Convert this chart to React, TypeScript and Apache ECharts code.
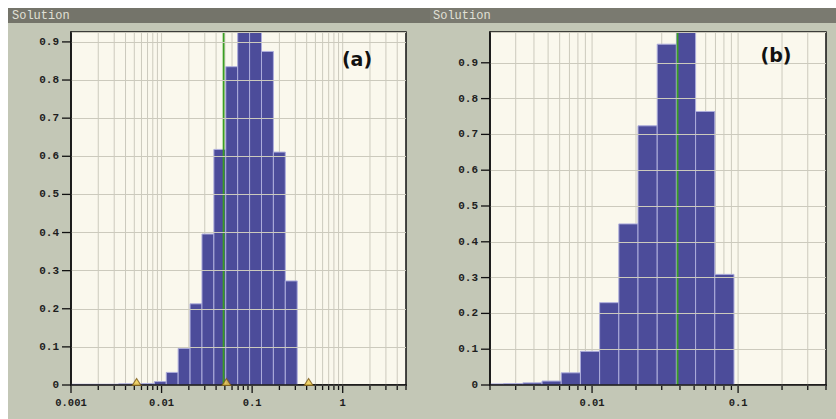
import React, { useEffect, useRef } from "react";
import * as echarts from "echarts";

const binEdges = [
  0.001, 0.0013535, 0.001832, 0.00248, 0.003356, 0.004543, 0.006149, 0.008323,
  0.011265, 0.015247, 0.020637, 0.027932, 0.037806, 0.05117, 0.06926, 0.09374,
  0.12688, 0.17173, 0.23244, 0.31461,
];
const valuesA = [
  0.002, 0.002, 0.002, 0.002, 0.003, 0.003, 0.004, 0.009, 0.033, 0.096, 0.213,
  0.396, 0.618, 0.835, 0.97, 1.0, 0.875, 0.611, 0.273,
];
const valuesB = [
  0, 0, 0.003, 0.004, 0.006, 0.011, 0.034, 0.094, 0.23, 0.45, 0.724, 0.952, 1.0,
  0.764, 0.309, 0, 0, 0, 0,
];
const solutionA = 0.0484;
const solutionB = 0.0385;
const trianglesA = [0.0053, 0.052, 0.42];
const xRangeA = [0.001, 5];
const xRangeB = [0.002, 0.4];
const yMaxA = 0.926;
const yMaxB = 0.986;
const yTickValues = [0, 0.1, 0.2, 0.3, 0.4, 0.5, 0.6, 0.7, 0.8, 0.9];
const decades = [0.001, 0.01, 0.1, 1];
const mantissas = [1, 2, 3, 4, 5, 6, 7, 8, 9];
const panelTitles = ["Solution", "Solution"];
const panelLabels = ["(a)", "(b)"];

const C = {
  panel: "#c3c7b6",
  header: "#74746a",
  headerText: "#e0e0d6",
  plot: "#faf8ed",
  grid: "#cccabd",
  axis: "#111111",
  bar: "#4c4c9a",
  barEdge: "#aeaedc",
  green: "#3a9e22",
  label: "#1e1e1e",
};

const MONO = "'Liberation Mono', 'DejaVu Sans Mono', monospace";

function gridValues(range: number[]) {
  const out: number[][] = [];
  decades.forEach((d) =>
    mantissas.forEach((m) => {
      const v = Number((m * d).toPrecision(6));
      if (v >= range[0] * 0.9999 && v <= range[1] * 1.0001) out.push([v, 0, m === 1 ? 1 : 0]);
    })
  );
  return out;
}

function fmtLog(v: number) {
  const l = Math.log10(v);
  if (Math.abs(l - Math.round(l)) > 1e-6) return "";
  return String(Number(v.toPrecision(6)));
}
function fmtY(v: number) {
  const t = v * 10;
  if (Math.abs(t - Math.round(t)) > 1e-6) return "";
  return String(Number(v.toFixed(1)));
}

function binData(values: number[]) {
  const out: number[][] = [];
  values.forEach((v, i) => {
    if (v > 0) out.push([binEdges[i], binEdges[i + 1], v]);
  });
  return out;
}

export default function App() {
  const ref = useRef<HTMLDivElement>(null);
  useEffect(() => {
    if (!ref.current) return;
    const chart = echarts.init(ref.current, undefined, { renderer: "svg" });

    const grids = [
      { left: 71, top: 32, width: 335, height: 353 },
      { left: 490, top: 32, width: 336, height: 353 },
    ];
    const xRanges = [xRangeA, xRangeB];
    const yMaxes = [yMaxA, yMaxB];
    const valueSets = [valuesA, valuesB];
    const solutions = [solutionA, solutionB];

    const series: any[] = [];
    [0, 1].forEach((i) => {
      series.push({
        type: "custom",
        xAxisIndex: i,
        yAxisIndex: i,
        z: 1,
        clip: false,
        silent: true,
        data: gridValues(xRanges[i]),
        encode: { x: 0, y: 1 },
        renderItem: (params: any, api: any) => {
          const cs = params.coordSys;
          const x = api.coord([api.value(0), 0])[0];
          const major = api.value(2) === 1;
          const bottom = cs.y + cs.height;
          const children: any[] = [];
          if (x > cs.x + 1 && x < cs.x + cs.width - 1) {
            children.push({
              type: "line",
              shape: { x1: x, y1: cs.y, x2: x, y2: bottom },
              style: { stroke: C.grid, lineWidth: 1 },
            });
          }
          children.push({
            type: "line",
            shape: { x1: x, y1: bottom, x2: x, y2: bottom + (major ? 8 : 5) },
            style: { stroke: C.axis, lineWidth: 1.3 },
          });
          return { type: "group", children };
        },
      });
      series.push({
        type: "custom",
        xAxisIndex: i,
        yAxisIndex: i,
        z: 7,
        clip: false,
        silent: true,
        data: yTickValues.map((v) => [xRanges[i][0], v]),
        encode: { x: 0, y: 1 },
        renderItem: (params: any, api: any) => {
          const cs = params.coordSys;
          const y = api.coord([xRanges[i][0], api.value(1)])[1];
          return {
            type: "line",
            shape: { x1: cs.x - 9, y1: y, x2: cs.x, y2: y },
            style: { stroke: C.axis, lineWidth: 1.3 },
          };
        },
      });
      series.push({
        type: "custom",
        xAxisIndex: i,
        yAxisIndex: i,
        z: 2,
        clip: true,
        silent: true,
        data: binData(valueSets[i]),
        encode: { x: [0, 1], y: 2 },
        renderItem: (params: any, api: any) => {
          const p0 = api.coord([api.value(0), api.value(2)]);
          const p1 = api.coord([api.value(1), 0]);
          return {
            type: "rect",
            shape: { x: p0[0], y: p0[1], width: p1[0] - p0[0], height: p1[1] - p0[1] },
            style: { fill: C.bar, stroke: C.barEdge, lineWidth: 1 },
          };
        },
      });
      series.push({
        type: "line",
        xAxisIndex: i,
        yAxisIndex: i,
        z: 3,
        silent: true,
        symbol: "none",
        data: [
          [solutions[i], 0],
          [solutions[i], yMaxes[i]],
        ],
        lineStyle: { color: C.green, width: 1.8 },
      });
    });
    series.push({
      type: "scatter",
      xAxisIndex: 0,
      yAxisIndex: 0,
      z: 8,
      clip: false,
      silent: true,
      symbol: "triangle",
      symbolSize: [9, 7],
      symbolOffset: [0, -3],
      data: trianglesA.map((v) => [v, 0]),
      itemStyle: { color: "#f0cc48", borderColor: "#7a5a18", borderWidth: 1 },
    });

    const xAxes = [0, 1].map((i) => ({
      type: "log",
      logBase: 10,
      gridIndex: i,
      min: xRanges[i][0],
      max: xRanges[i][1],
      z: 5,
      axisLine: { show: true, onZero: false, lineStyle: { color: C.axis, width: 1.5 } },
      axisTick: { show: false },
      axisLabel: {
        show: true,
        formatter: fmtLog,
        fontFamily: MONO,
        fontWeight: "bold",
        fontSize: 10.5,
        color: C.label,
        margin: 12,
      },
      splitLine: { show: false },
    }));
    const yAxes = [0, 1].map((i) => ({
      type: "value",
      gridIndex: i,
      min: 0,
      max: yMaxes[i],
      interval: 0.1,
      z: 5,
      axisLine: { show: true, onZero: false, lineStyle: { color: C.axis, width: 1.5 } },
      axisTick: { show: false },
      axisLabel: {
        show: true,
        formatter: fmtY,
        fontFamily: MONO,
        fontWeight: "bold",
        fontSize: 11,
        color: C.label,
        margin: 12,
        align: "right",
        padding: [0, 0, 0, 0],
      },
      splitLine: { show: true, lineStyle: { color: C.grid, width: 1 } },
    }));

    const option: any = {
      animation: false,
      backgroundColor: C.panel,
      grid: grids.map((g) => ({
        ...g,
        show: true,
        backgroundColor: C.plot,
        borderColor: C.axis,
        borderWidth: 1.5,
        containLabel: false,
      })),
      xAxis: xAxes,
      yAxis: yAxes,
      series,
      graphic: [
        { type: "rect", shape: { x: 0, y: 0, width: 836, height: 8 }, style: { fill: "#ffffff" }, silent: true },
        { type: "rect", shape: { x: 0, y: 0, width: 8, height: 419 }, style: { fill: "#ffffff" }, silent: true },
        { type: "rect", shape: { x: 8, y: 8, width: 422, height: 15 }, style: { fill: C.header }, silent: true },
        { type: "rect", shape: { x: 430, y: 8, width: 406, height: 15 }, style: { fill: "#7a7a70" }, silent: true },
        {
          type: "text",
          x: 12,
          y: 16,
          silent: true,
          style: { text: panelTitles[0], fontFamily: MONO, fontSize: 12, fill: C.headerText, verticalAlign: "middle" },
        },
        {
          type: "text",
          x: 433,
          y: 16,
          silent: true,
          style: { text: panelTitles[1], fontFamily: MONO, fontSize: 12, fill: C.headerText, verticalAlign: "middle" },
        },
        {
          type: "text",
          x: 357,
          y: 59,
          z: 10,
          silent: true,
          style: {
            text: panelLabels[0],
            fontFamily: "'DejaVu Sans', sans-serif",
            fontWeight: "bold",
            fontSize: 19,
            fill: "#111",
            align: "center",
            verticalAlign: "middle",
          },
        },
        {
          type: "text",
          x: 776,
          y: 55,
          z: 10,
          silent: true,
          style: {
            text: panelLabels[1],
            fontFamily: "'DejaVu Sans', sans-serif",
            fontWeight: "bold",
            fontSize: 19,
            fill: "#111",
            align: "center",
            verticalAlign: "middle",
          },
        },
      ],
    };
    chart.setOption(option);
    return () => chart.dispose();
  }, []);
  return (
    <div
      ref={ref}
      style={{ position: "fixed", left: 0, top: 0, width: 836, height: 419 }}
    />
  );
}
